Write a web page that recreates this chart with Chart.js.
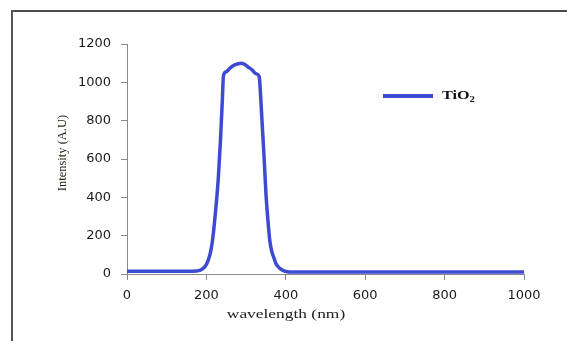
<!DOCTYPE html>
<html><head><meta charset="utf-8">
<script src="https://cdn.jsdelivr.net/npm/chart.js@4/dist/chart.umd.min.js"></script>
<style>html,body{margin:0;padding:0;background:#fff;overflow:hidden}canvas{display:block}</style>
</head><body><canvas id="c" width="567" height="341"></canvas>
<script>
const wavelengths = [0, 50, 100, 150, 175, 185, 195, 200, 205, 210, 215, 220, 225, 230, 235, 240, 243, 250, 260, 270, 280, 287, 295, 305, 315, 325, 333, 336, 340, 345, 350, 355, 360, 365, 370, 375, 380, 390, 400, 420, 500, 600, 700, 800, 900, 1000];
const intensity   = [15, 15, 15, 15, 16, 20, 35, 50, 75, 110, 170, 260, 370, 500, 680, 900, 1035, 1055, 1075, 1090, 1097, 1099, 1095, 1080, 1065, 1045, 1030, 950, 800, 620, 420, 280, 170, 115, 85, 55, 40, 22, 13, 10, 10, 10, 10, 10, 10, 10];
const xTicks = [0, 200, 400, 600, 800, 1000];
const yTicks = [0, 200, 400, 600, 800, 1000, 1200];
const seriesLabel = 'TiO2';
const xTitle = 'wavelength (nm)';
const yTitle = 'Intensity (A.U)';

const LINE_COLOR = '#3D4BD2';

const framePlugin = {
  id: 'frame',
  beforeDraw(chart) {
    const ctx = chart.ctx;
    ctx.save();
    ctx.fillStyle = '#fff';
    ctx.fillRect(0, 0, chart.width, chart.height);
    ctx.strokeStyle = '#111';
    ctx.lineWidth = 1.5;
    ctx.beginPath(); ctx.moveTo(11, 11); ctx.lineTo(chart.width, 11); ctx.stroke();
    ctx.strokeStyle = '#555';
    ctx.lineWidth = 2;
    ctx.beginPath(); ctx.moveTo(12, 10); ctx.lineTo(12, chart.height); ctx.stroke();
    ctx.restore();
  },
  afterDraw(chart) {
    const ctx = chart.ctx;
    const ds = chart.data.datasets[0];
    ctx.save();
    ctx.strokeStyle = ds.borderColor;
    ctx.lineWidth = 4;
    ctx.beginPath(); ctx.moveTo(383, 96); ctx.lineTo(433, 96); ctx.stroke();
    const m = ds.label.match(/^(.*?)(\d+)$/);
    const main = m ? m[1] : ds.label, sub = m ? m[2] : '';
    ctx.fillStyle = '#111';
    ctx.textBaseline = 'alphabetic';
    ctx.translate(442, 99);
    ctx.scale(1.35, 1);
    ctx.font = 'bold 12px "Liberation Serif"';
    ctx.fillText(main, 0, 0);
    const w = ctx.measureText(main).width;
    ctx.font = 'bold 8px "Liberation Serif"';
    ctx.fillText(sub, w, 2.5);
    ctx.restore();

    ctx.save();
    ctx.fillStyle = '#222';
    ctx.font = '12px "Liberation Serif"';
    ctx.textAlign = 'center';
    ctx.textBaseline = 'alphabetic';
    ctx.translate(286, 318);
    ctx.scale(1.45, 1);
    ctx.fillText(xTitle, 0, 0);
    ctx.restore();

    ctx.save();
    ctx.fillStyle = '#2e2416';
    ctx.font = '12.5px "Liberation Serif"';
    ctx.textAlign = 'center';
    ctx.textBaseline = 'middle';
    ctx.translate(63, 153);
    ctx.rotate(-Math.PI / 2);
    ctx.fillText(yTitle, 0, 0);
    ctx.restore();
  }
};

new Chart(document.getElementById('c'), {
  type: 'line',
  data: {
    datasets: [{
      label: seriesLabel,
      data: wavelengths.map((x, i) => ({ x, y: intensity[i] })),
      borderColor: LINE_COLOR,
      backgroundColor: LINE_COLOR,
      borderWidth: 3.5,
      pointRadius: 0,
      cubicInterpolationMode: 'monotone',
      fill: false
    }]
  },
  options: {
    responsive: false,
    devicePixelRatio: 1,
    animation: false,
    layout: { padding: { left: 0, top: 44, right: 43, bottom: 0 } },
    plugins: { legend: { display: false }, tooltip: { enabled: false } },
    scales: {
      x: {
        type: 'linear', min: 0, max: 1000,
        afterBuildTicks(s) { s.ticks = xTicks.map(v => ({ value: v })); },
        afterFit(s) { s.height = 341 - 274; },
        grid: { drawOnChartArea: false, drawTicks: true, tickLength: 6, color: '#8a8a8a' },
        border: { display: true, color: '#8a8a8a', width: 1 },
        ticks: { padding: 8, color: '#1a1a1a', font: { family: 'DejaVu Sans', size: 13 }, maxRotation: 0, callback: v => String(v) }
      },
      y: {
        min: 0, max: 1200,
        afterBuildTicks(s) { s.ticks = yTicks.map(v => ({ value: v })); },
        afterFit(s) { s.width = 127; },
        grid: { drawOnChartArea: false, drawTicks: true, tickLength: 6, color: '#8a8a8a' },
        border: { display: true, color: '#8a8a8a', width: 1 },
        ticks: { padding: 10, color: '#1a1a1a', font: { family: 'DejaVu Sans', size: 13 }, callback: v => String(v) }
      }
    }
  },
  plugins: [framePlugin]
});
</script>
</body></html>
